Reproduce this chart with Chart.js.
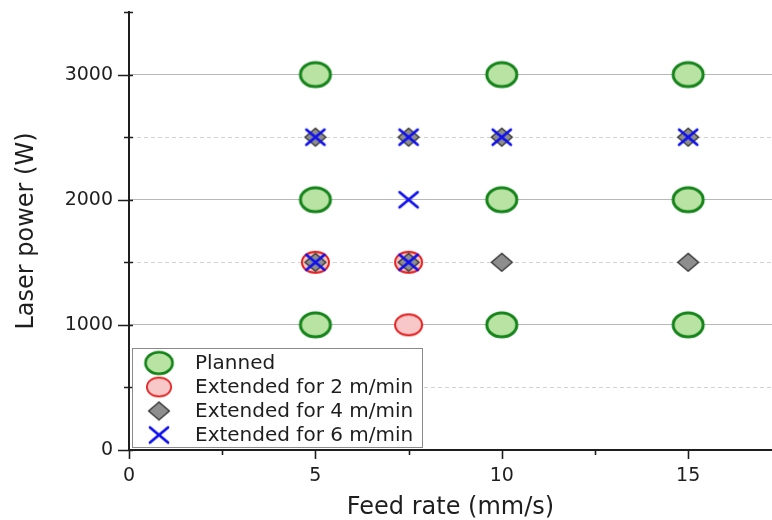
<!DOCTYPE html>
<html>
<head>
<meta charset="utf-8">
<script src="https://cdn.jsdelivr.net/npm/chart.js@4.4.0/dist/chart.umd.min.js"></script>
<style>
  html, body { margin: 0; padding: 0; background: #fff; }
  #wrap { width: 772px; height: 520px; }
</style>
</head>
<body>
<div id="wrap"><canvas id="chart" width="772" height="520"></canvas></div>
<script>
// Laser power vs feed rate test matrix
const seriesLabels = ['Planned', 'Extended for 2 m/min', 'Extended for 4 m/min', 'Extended for 6 m/min'];

const plannedFeed  = [5, 5, 5, 10, 10, 10, 15, 15, 15];
const plannedPower = [1000, 2000, 3000, 1000, 2000, 3000, 1000, 2000, 3000];

const ext2Feed  = [5, 7.5, 7.5];
const ext2Power = [1500, 1500, 1000];

const ext4Feed  = [5, 7.5, 10, 15, 5, 7.5, 10, 15];
const ext4Power = [2500, 2500, 2500, 2500, 1500, 1500, 1500, 1500];

const ext6Feed  = [5, 7.5, 10, 15, 7.5, 5, 7.5];
const ext6Power = [2500, 2500, 2500, 2500, 2000, 1500, 1500];

const xTickStep = 2.5;
const yTickStep = 500;

const FONT = "'DejaVu Sans', sans-serif";
const INK = '#1e1e1e';

function toPoints(xs, ys) {
    return xs.map((x, i) => ({ x: x, y: ys[i] }));
}

// Build a small canvas that Chart.js can use as a point style
function makeMarker(kind, w, h, fill, stroke, lw) {
    const c = document.createElement('canvas');
    c.width = Math.ceil(w + lw * 2);
    c.height = Math.ceil(h + lw * 2);
    const g = c.getContext('2d');
    const cx = c.width / 2, cy = c.height / 2;
    g.lineWidth = lw;
    g.strokeStyle = stroke;
    g.lineCap = 'round';
    g.beginPath();
    if (kind === 'ellipse') {
        g.ellipse(cx, cy, w / 2, h / 2, 0, 0, Math.PI * 2);
    } else if (kind === 'diamond') {
        g.moveTo(cx, cy - h / 2);
        g.lineTo(cx + w / 2, cy);
        g.lineTo(cx, cy + h / 2);
        g.lineTo(cx - w / 2, cy);
        g.closePath();
    } else {
        g.moveTo(cx - w / 2, cy - h / 2);
        g.lineTo(cx + w / 2, cy + h / 2);
        g.moveTo(cx + w / 2, cy - h / 2);
        g.lineTo(cx - w / 2, cy + h / 2);
    }
    if (fill) {
        g.fillStyle = fill;
        g.fill();
    }
    g.stroke();
    return c;
}

const markers = [
    makeMarker('ellipse', 30, 24, '#b9e3a3', '#14841a', 3),
    makeMarker('ellipse', 27, 21, '#f8c8c8', '#e41e1e', 2),
    makeMarker('diamond', 21, 18, '#8e8e8e', '#2a2a2a', 1.2),
    makeMarker('cross', 18, 15, null, '#1010ee', 2.8)
];

// minor / major tick marks and the inset legend
const decorPlugin = {
    id: 'decor',
    afterDraw(chart) {
        const { ctx, chartArea: a, scales } = chart;
        const x = scales.x, y = scales.y;
        ctx.save();
        ctx.strokeStyle = INK;
        ctx.lineWidth = 1.6;
        ctx.beginPath();
        y.ticks.forEach(t => {
            if (t.value % yTickStep !== 0) return;
            const py = Math.round(y.getPixelForValue(t.value)) + 0.5;
            const major = t.value % 1000 === 0;
            ctx.moveTo(a.left - (major ? 11 : 5), py);
            ctx.lineTo(a.left + 4, py);
        });
        x.ticks.forEach(t => {
            if (Math.abs(t.value / xTickStep - Math.round(t.value / xTickStep)) > 1e-6) return;
            const px = Math.round(x.getPixelForValue(t.value)) + 0.5;
            const major = t.value % 5 === 0;
            ctx.moveTo(px, a.bottom);
            ctx.lineTo(px, a.bottom + (major ? 9 : 5));
        });
        ctx.stroke();

        // legend box in the lower left of the plot
        const bx = a.left + 3, by = a.bottom - 102, bw = 290, bh = 99;
        ctx.fillStyle = '#fff';
        ctx.fillRect(bx, by, bw, bh);
        ctx.strokeStyle = '#8a8a8a';
        ctx.lineWidth = 1;
        ctx.strokeRect(bx + 0.5, by + 0.5, bw, bh);
        ctx.font = '20px ' + FONT;
        ctx.fillStyle = INK;
        ctx.textBaseline = 'middle';
        ctx.textAlign = 'left';
        chart.data.datasets.forEach((ds, i) => {
            const rowY = by + 15 + i * 24;
            const m = ds.pointStyle;
            const s = i < 2 ? 0.9 : 1;
            ctx.drawImage(m, bx + 27 - m.width * s / 2, rowY - m.height * s / 2, m.width * s, m.height * s);
            ctx.fillText(ds.label, bx + 63, rowY + 1);
        });
        ctx.restore();
    }
};

const datasets = [
    toPoints(plannedFeed, plannedPower),
    toPoints(ext2Feed, ext2Power),
    toPoints(ext4Feed, ext4Power),
    toPoints(ext6Feed, ext6Power)
].map((pts, i) => ({
    label: seriesLabels[i],
    data: pts,
    pointStyle: markers[i],
    pointRadius: 12,
    pointHoverRadius: 12,
    showLine: false,
    order: 3 - i   // later series drawn on top
}));

new Chart(document.getElementById('chart'), {
    type: 'scatter',
    data: { datasets: datasets },
    options: {
        responsive: false,
        devicePixelRatio: 1,
        animation: false,
        layout: { autoPadding: false, padding: { top: 12, right: 0, left: 0, bottom: 0 } },
        plugins: {
            legend: { display: false },
            tooltip: { enabled: false }
        },
        scales: {
            x: {
                type: 'linear',
                min: 0,
                max: 17.25,
                afterFit: s => {
                    s.height = 70;
                    s.paddingLeft = 0;
                    s.paddingRight = 0;
                },
                border: { display: true, color: INK, width: 2 },
                grid: { display: false, drawTicks: false },
                ticks: {
                    stepSize: xTickStep,
                    includeBounds: false,
                    autoSkip: false,
                    maxRotation: 0,
                    padding: 15,
                    color: INK,
                    font: { size: 19, family: FONT },
                    callback: v => (v % 5 === 0 ? v : '')
                },
                title: {
                    display: true,
                    text: 'Feed rate (mm/s)',
                    color: INK,
                    font: { size: 24, family: FONT, lineHeight: 1 },
                    padding: { top: 0, bottom: 0 }
                }
            },
            y: {
                type: 'linear',
                min: 0,
                max: 3500,
                afterFit: s => {
                    s.width = 129;
                    s.paddingTop = 0;
                    s.paddingBottom = 0;
                },
                border: {
                    display: true,
                    color: INK,
                    width: 2,
                    dash: ctx => (ctx.tick && ctx.tick.value % 1000 !== 0 ? [4, 3] : [])
                },
                grid: {
                    drawTicks: false,
                    lineWidth: 1,
                    color: ctx => {
                        const v = ctx.tick ? ctx.tick.value : 0;
                        if (v <= 0 || v >= 3500) return 'rgba(0,0,0,0)';
                        return v % 1000 === 0 ? '#b8b8b8' : '#d2d2d2';
                    }
                },
                ticks: {
                    stepSize: yTickStep,
                    autoSkip: false,
                    padding: 16,
                    color: INK,
                    font: { size: 19, family: FONT },
                    callback: v => (v % 1000 === 0 ? v : '')
                },
                title: {
                    display: true,
                    text: 'Laser power (W)',
                    color: INK,
                    font: { size: 24, family: FONT },
                    padding: { top: 12, bottom: 0 }
                }
            }
        }
    },
    plugins: [decorPlugin]
});
</script>
</body>
</html>
